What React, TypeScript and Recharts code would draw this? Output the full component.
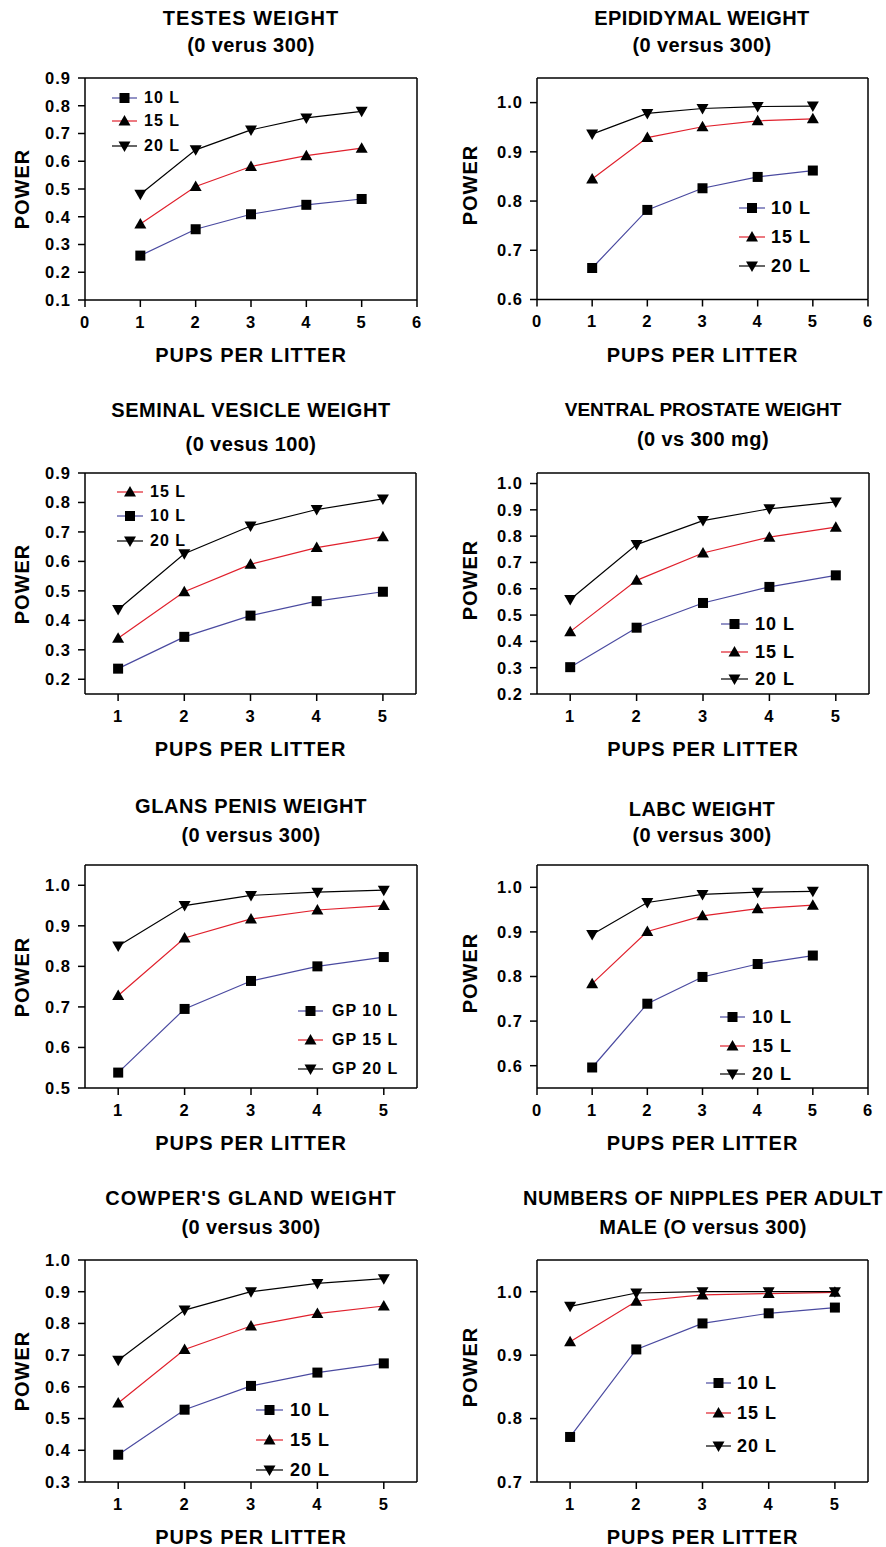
import React from 'react';
import { LineChart, Line, XAxis, YAxis } from 'recharts';

const FONT = '"Liberation Sans", Arial, Helvetica, sans-serif';
const BLUE = '#4a4aa0';
const RED = '#e0202c';
const BLACK = '#000000';

const pups = [1, 2, 3, 4, 5];
const xTicksWide = [0, 1, 2, 3, 4, 5, 6];
const xTicksNarrow = [1, 2, 3, 4, 5];

// testes weight
const testes10 = [0.26, 0.355, 0.409, 0.443, 0.464];
const testes15 = [0.374, 0.509, 0.581, 0.62, 0.647];
const testes20 = [0.481, 0.641, 0.713, 0.756, 0.78];
const testesTicks = [0.1, 0.2, 0.3, 0.4, 0.5, 0.6, 0.7, 0.8, 0.9];

// epididymal weight
const epid10 = [0.664, 0.782, 0.826, 0.849, 0.862];
const epid15 = [0.845, 0.929, 0.951, 0.963, 0.967];
const epid20 = [0.936, 0.978, 0.988, 0.992, 0.993];
const epidTicks = [0.6, 0.7, 0.8, 0.9, 1.0];

// seminal vesicle weight
const semv10 = [0.236, 0.344, 0.416, 0.465, 0.497];
const semv15 = [0.339, 0.497, 0.59, 0.647, 0.684];
const semv20 = [0.437, 0.626, 0.72, 0.776, 0.812];
const semvTicks = [0.2, 0.3, 0.4, 0.5, 0.6, 0.7, 0.8, 0.9];

// ventral prostate weight
const vp10 = [0.302, 0.452, 0.546, 0.607, 0.651];
const vp15 = [0.437, 0.632, 0.736, 0.796, 0.834];
const vp20 = [0.559, 0.768, 0.859, 0.904, 0.93];
const vpTicks = [0.2, 0.3, 0.4, 0.5, 0.6, 0.7, 0.8, 0.9, 1.0];

// glans penis weight
const gp10 = [0.538, 0.695, 0.764, 0.8, 0.823];
const gp15 = [0.728, 0.87, 0.917, 0.939, 0.95];
const gp20 = [0.85, 0.95, 0.975, 0.983, 0.988];
const gpTicks = [0.5, 0.6, 0.7, 0.8, 0.9, 1.0];

// LABC weight
const labc10 = [0.596, 0.739, 0.799, 0.828, 0.847];
const labc15 = [0.784, 0.901, 0.936, 0.952, 0.96];
const labc20 = [0.894, 0.966, 0.984, 0.989, 0.991];
const labcTicks = [0.6, 0.7, 0.8, 0.9, 1.0];

// cowper's gland weight
const cg10 = [0.386, 0.528, 0.603, 0.645, 0.674];
const cg15 = [0.549, 0.718, 0.792, 0.831, 0.855];
const cg20 = [0.684, 0.842, 0.9, 0.926, 0.941];
const cgTicks = [0.3, 0.4, 0.5, 0.6, 0.7, 0.8, 0.9, 1.0];

// nipples per adult male
const nip10 = [0.771, 0.909, 0.95, 0.966, 0.975];
const nip15 = [0.921, 0.985, 0.995, 0.997, 0.999];
const nip20 = [0.977, 0.998, 1.0, 1.0, 1.0];
const nipTicks = [0.7, 0.8, 0.9, 1.0];

const names = ['10 L', '15 L', '20 L'];
const gpNames = ['GP 10 L', 'GP 15 L', 'GP 20 L'];

type PanelData = {
  title: [string, string];
  s: number[][];
  labels: string[];
  order: number[];
  xDomain: [number, number];
  xTicks: number[];
  yDomain: [number, number];
  yTicks: number[];
};

const panels: PanelData[] = [
  { title: ['TESTES WEIGHT', '(0 verus 300)'], s: [testes10, testes15, testes20], labels: names, order: [0, 1, 2], xDomain: [0, 6], xTicks: xTicksWide, yDomain: [0.1, 0.9], yTicks: testesTicks },
  { title: ['EPIDIDYMAL WEIGHT', '(0 versus 300)'], s: [epid10, epid15, epid20], labels: names, order: [0, 1, 2], xDomain: [0, 6], xTicks: xTicksWide, yDomain: [0.6, 1.05], yTicks: epidTicks },
  { title: ['SEMINAL VESICLE WEIGHT', '(0 vesus 100)'], s: [semv10, semv15, semv20], labels: names, order: [1, 0, 2], xDomain: [0.5, 5.5], xTicks: xTicksNarrow, yDomain: [0.15, 0.9], yTicks: semvTicks },
  { title: ['VENTRAL PROSTATE WEIGHT', '(0 vs 300 mg)'], s: [vp10, vp15, vp20], labels: names, order: [0, 1, 2], xDomain: [0.5, 5.5], xTicks: xTicksNarrow, yDomain: [0.2, 1.04], yTicks: vpTicks },
  { title: ['GLANS PENIS WEIGHT', '(0 versus 300)'], s: [gp10, gp15, gp20], labels: gpNames, order: [0, 1, 2], xDomain: [0.5, 5.5], xTicks: xTicksNarrow, yDomain: [0.5, 1.05], yTicks: gpTicks },
  { title: ['LABC WEIGHT', '(0 versus 300)'], s: [labc10, labc15, labc20], labels: names, order: [0, 1, 2], xDomain: [0, 6], xTicks: xTicksWide, yDomain: [0.55, 1.05], yTicks: labcTicks },
  { title: ["COWPER'S GLAND WEIGHT", '(0 versus 300)'], s: [cg10, cg15, cg20], labels: names, order: [0, 1, 2], xDomain: [0.5, 5.5], xTicks: xTicksNarrow, yDomain: [0.3, 1.0], yTicks: cgTicks },
  { title: ['NUMBERS OF NIPPLES PER ADULT', 'MALE (O versus 300)'], s: [nip10, nip15, nip20], labels: names, order: [0, 1, 2], xDomain: [0.5, 5.5], xTicks: xTicksNarrow, yDomain: [0.7, 1.05], yTicks: nipTicks },
];

// layout: chart origin, plot box (left, top, right, bottom), title lines, legend
type Layout = {
  ox: number; oy: number; h: number;
  plot: [number, number, number, number];
  t1: [number, number]; t2: [number, number];
  t1size: number; t1ls: number;
  lg: { x0: number; x1: number; tx: number; ys: number[]; size: number };
};

const layouts: Layout[] = [
  { ox: 0, oy: 0, h: 390, plot: [85, 78, 417, 300], t1: [251, 18], t2: [251, 45], t1size: 20, t1ls: 1, lg: { x0: 112, x1: 137, tx: 144, ys: [97.5, 120.5, 145.5], size: 16 } },
  { ox: 443, oy: 0, h: 390, plot: [537, 78, 868, 299.5], t1: [702, 18], t2: [702, 45], t1size: 20, t1ls: 0.4, lg: { x0: 739, x1: 765, tx: 771, ys: [208, 237, 266], size: 18 } },
  { ox: 0, oy: 390, h: 395, plot: [85, 473, 416, 694], t1: [251, 410], t2: [251, 444], t1size: 20, t1ls: 0.6, lg: { x0: 117, x1: 143, tx: 150, ys: [491.7, 516, 540.7], size: 16 } },
  { ox: 443, oy: 390, h: 395, plot: [537, 473, 869, 694], t1: [703, 409], t2: [703, 439], t1size: 19, t1ls: 0, lg: { x0: 721, x1: 748, tx: 755, ys: [624.3, 651.7, 679.3], size: 18 } },
  { ox: 0, oy: 785, h: 390, plot: [85, 865, 417, 1088], t1: [251, 806], t2: [251, 835], t1size: 20, t1ls: 0.6, lg: { x0: 298, x1: 323, tx: 332, ys: [1011, 1040, 1069.3], size: 16 } },
  { ox: 443, oy: 785, h: 390, plot: [537, 865, 868, 1088], t1: [702, 809], t2: [702, 835], t1size: 20, t1ls: 0.5, lg: { x0: 720, x1: 745, tx: 752, ys: [1017, 1046, 1074], size: 18 } },
  { ox: 0, oy: 1175, h: 372, plot: [85, 1260, 417, 1482], t1: [251, 1198], t2: [251, 1227], t1size: 20, t1ls: 1, lg: { x0: 256, x1: 283, tx: 290, ys: [1410, 1440, 1470], size: 18 } },
  { ox: 443, oy: 1175, h: 372, plot: [537, 1260, 868, 1482], t1: [703, 1198], t2: [703, 1227], t1size: 20, t1ls: 0.6, lg: { x0: 706, x1: 731, tx: 737, ys: [1383, 1413.3, 1446], size: 18 } },
];

const colors = [BLUE, RED, BLACK];
const shapes = ['square', 'up', 'down'];
const keys = ['a', 'b', 'c'];

const YW = 60, RW = 10, TH = 10, XH = 30;

const marker = (shape: string, cx: number, cy: number, key?: React.Key) => {
  if (cx == null || cy == null) return <g key={key} />;
  if (shape === 'square') return <rect key={key} x={cx - 5} y={cy - 5} width={10} height={10} fill="#000" />;
  if (shape === 'up') return <polygon key={key} points={`${cx},${cy - 6} ${cx + 6},${cy + 4.5} ${cx - 6},${cy + 4.5}`} fill="#000" />;
  return <polygon key={key} points={`${cx},${cy + 6} ${cx + 6},${cy - 4.5} ${cx - 6},${cy - 4.5}`} fill="#000" />;
};

const textBase: React.CSSProperties = { fontFamily: FONT, fontWeight: 700, color: '#000', whiteSpace: 'nowrap', lineHeight: 1, position: 'absolute' };

const XTick = (props: any) => (
  <text x={props.x} y={props.y} dy="0.71em" textAnchor="middle" fill="#000"
    style={{ fontFamily: FONT, fontWeight: 700, fontSize: 16.5, letterSpacing: 1 }}>{props.payload.value}</text>
);
const YTick = (props: any) => (
  <text x={props.x} y={props.y} dy="0.355em" textAnchor="end" fill="#000"
    style={{ fontFamily: FONT, fontWeight: 700, fontSize: 16.5, letterSpacing: 1 }}>{Number(props.payload.value).toFixed(1)}</text>
);

const axisLine = { stroke: '#000', strokeWidth: 1.5 };

function Panel({ p, l }: { p: PanelData; l: Layout }) {
  const rows = pups.map((x, i) => ({ x, a: p.s[0][i], b: p.s[1][i], c: p.s[2][i] }));
  const [pl, pt, pr, pb] = l.plot;
  const margin = { left: pl - l.ox - YW, right: l.ox + 443 - pr - RW, top: pt - l.oy - TH, bottom: l.oy + l.h - pb - XH };
  const cx = (pl + pr) / 2;
  const cy = (pt + pb) / 2;
  return (
    <>
      <div style={{ position: 'absolute', left: l.ox, top: l.oy }}>
        <LineChart width={443} height={l.h} data={rows} margin={margin}>
          <XAxis dataKey="x" type="number" domain={p.xDomain} ticks={p.xTicks} allowDataOverflow interval={0}
            height={XH} tickSize={7} tickMargin={9} axisLine={axisLine} tickLine={axisLine} tick={<XTick />} />
          <XAxis xAxisId="t" orientation="top" dataKey="x" type="number" domain={p.xDomain} ticks={p.xTicks} allowDataOverflow interval={0}
            height={TH} tickSize={7} axisLine={axisLine} tickLine={axisLine} tick={false} />
          <YAxis type="number" domain={p.yDomain} ticks={p.yTicks} allowDataOverflow interval={0}
            width={YW} tickSize={7} tickMargin={7} axisLine={axisLine} tickLine={axisLine} tick={<YTick />} />
          <YAxis yAxisId="r" orientation="right" type="number" domain={p.yDomain} ticks={p.yTicks} allowDataOverflow interval={0}
            width={RW} tickSize={7} axisLine={axisLine} tickLine={axisLine} tick={false} />
          {keys.map((k, i) => (
            <Line key={k} dataKey={k} stroke={colors[i]} strokeWidth={1.2} isAnimationActive={false} activeDot={false}
              dot={(d: any) => marker(shapes[i], d.cx, d.cy, d.index)} />
          ))}
        </LineChart>
      </div>
      <div style={{ ...textBase, fontSize: l.t1size, letterSpacing: l.t1ls, left: l.t1[0], top: l.t1[1], transform: 'translate(-50%, -50%)' }}>{p.title[0]}</div>
      <div style={{ ...textBase, fontSize: 20, letterSpacing: 0.4, left: l.t2[0], top: l.t2[1], transform: 'translate(-50%, -50%)' }}>{p.title[1]}</div>
      <div style={{ ...textBase, fontSize: 20, letterSpacing: 1, left: cx, top: pb + 55, transform: 'translate(-50%, -50%)' }}>PUPS PER LITTER</div>
      <div style={{ ...textBase, fontSize: 20, letterSpacing: 1, left: l.ox === 0 ? 22 : 470, top: l.ox === 0 ? cy : cy - 4, transform: 'translate(-50%, -50%) rotate(-90deg)' }}>POWER</div>
      {p.order.map((si, row) => {
        const y = l.lg.ys[row];
        const w = l.lg.x1 - l.lg.x0;
        return (
          <React.Fragment key={si}>
            <svg style={{ position: 'absolute', left: l.lg.x0, top: y - 8 }} width={w} height={16}>
              <line x1={0} x2={w} y1={8} y2={8} stroke={colors[si]} strokeWidth={1.2} />
              {marker(shapes[si], w / 2, 8)}
            </svg>
            <div style={{ ...textBase, fontSize: l.lg.size, letterSpacing: 1, left: l.lg.tx, top: y, transform: 'translateY(-50%)' }}>{p.labels[si]}</div>
          </React.Fragment>
        );
      })}
    </>
  );
}

export default function App() {
  return (
    <div style={{ position: 'absolute', left: 0, top: 0, width: 886, height: 1547, background: '#fff', overflow: 'hidden' }}>
      {panels.map((p, i) => <Panel key={i} p={p} l={layouts[i]} />)}
    </div>
  );
}
